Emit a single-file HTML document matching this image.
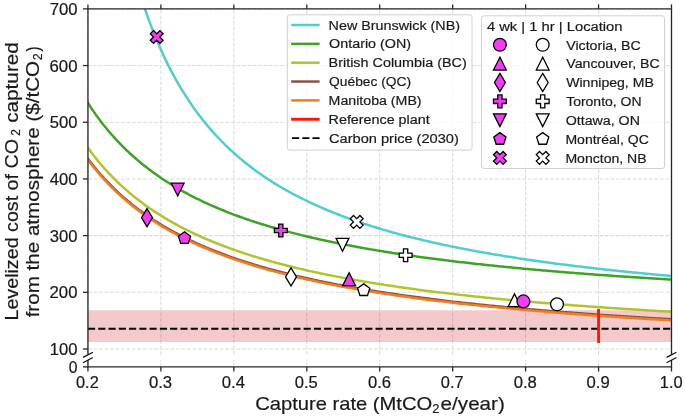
<!DOCTYPE html>
<html><head><meta charset="utf-8"><title>Levelized cost of CO2 captured</title>
<style>
html,body{margin:0;padding:0;background:#fff;width:685px;height:417px;overflow:hidden;}
svg{display:block;will-change:transform;}
text{font-family:"Liberation Sans", sans-serif;stroke:#1a1a1a;stroke-width:0.2px;}
</style></head><body>
<svg width="685" height="417" viewBox="0 0 685 417" font-family="'Liberation Sans', sans-serif">
<rect x="0" y="0" width="685" height="417" fill="#ffffff"/>
<defs>
<clipPath id="cu"><rect x="87.95" y="8.9" width="583.55" height="345.90000000000003"/></clipPath>
</defs>
<line x1="87.95" y1="349.00" x2="671.5" y2="349.00" stroke="#dadada" stroke-width="1.05" stroke-dasharray="3.84 1.66"/>
<line x1="87.95" y1="292.32" x2="671.5" y2="292.32" stroke="#dadada" stroke-width="1.05" stroke-dasharray="3.84 1.66"/>
<line x1="87.95" y1="235.63" x2="671.5" y2="235.63" stroke="#dadada" stroke-width="1.05" stroke-dasharray="3.84 1.66"/>
<line x1="87.95" y1="178.95" x2="671.5" y2="178.95" stroke="#dadada" stroke-width="1.05" stroke-dasharray="3.84 1.66"/>
<line x1="87.95" y1="122.27" x2="671.5" y2="122.27" stroke="#dadada" stroke-width="1.05" stroke-dasharray="3.84 1.66"/>
<line x1="87.95" y1="65.58" x2="671.5" y2="65.58" stroke="#dadada" stroke-width="1.05" stroke-dasharray="3.84 1.66"/>
<line x1="87.95" y1="8.90" x2="671.5" y2="8.90" stroke="#dadada" stroke-width="1.05" stroke-dasharray="3.84 1.66"/>
<line x1="87.95" y1="354.8" x2="87.95" y2="8.9" stroke="#dadada" stroke-width="1.05" stroke-dasharray="3.84 1.66"/>
<line x1="87.95" y1="366.9" x2="87.95" y2="360.1" stroke="#dadada" stroke-width="1.05" stroke-dasharray="3.84 1.66"/>
<line x1="160.89" y1="354.8" x2="160.89" y2="8.9" stroke="#dadada" stroke-width="1.05" stroke-dasharray="3.84 1.66"/>
<line x1="160.89" y1="366.9" x2="160.89" y2="360.1" stroke="#dadada" stroke-width="1.05" stroke-dasharray="3.84 1.66"/>
<line x1="233.84" y1="354.8" x2="233.84" y2="8.9" stroke="#dadada" stroke-width="1.05" stroke-dasharray="3.84 1.66"/>
<line x1="233.84" y1="366.9" x2="233.84" y2="360.1" stroke="#dadada" stroke-width="1.05" stroke-dasharray="3.84 1.66"/>
<line x1="306.78" y1="354.8" x2="306.78" y2="8.9" stroke="#dadada" stroke-width="1.05" stroke-dasharray="3.84 1.66"/>
<line x1="306.78" y1="366.9" x2="306.78" y2="360.1" stroke="#dadada" stroke-width="1.05" stroke-dasharray="3.84 1.66"/>
<line x1="379.72" y1="354.8" x2="379.72" y2="8.9" stroke="#dadada" stroke-width="1.05" stroke-dasharray="3.84 1.66"/>
<line x1="379.72" y1="366.9" x2="379.72" y2="360.1" stroke="#dadada" stroke-width="1.05" stroke-dasharray="3.84 1.66"/>
<line x1="452.67" y1="354.8" x2="452.67" y2="8.9" stroke="#dadada" stroke-width="1.05" stroke-dasharray="3.84 1.66"/>
<line x1="452.67" y1="366.9" x2="452.67" y2="360.1" stroke="#dadada" stroke-width="1.05" stroke-dasharray="3.84 1.66"/>
<line x1="525.61" y1="354.8" x2="525.61" y2="8.9" stroke="#dadada" stroke-width="1.05" stroke-dasharray="3.84 1.66"/>
<line x1="525.61" y1="366.9" x2="525.61" y2="360.1" stroke="#dadada" stroke-width="1.05" stroke-dasharray="3.84 1.66"/>
<line x1="598.56" y1="354.8" x2="598.56" y2="8.9" stroke="#dadada" stroke-width="1.05" stroke-dasharray="3.84 1.66"/>
<line x1="598.56" y1="366.9" x2="598.56" y2="360.1" stroke="#dadada" stroke-width="1.05" stroke-dasharray="3.84 1.66"/>
<line x1="671.50" y1="354.8" x2="671.50" y2="8.9" stroke="#dadada" stroke-width="1.05" stroke-dasharray="3.84 1.66"/>
<line x1="671.50" y1="366.9" x2="671.50" y2="360.1" stroke="#dadada" stroke-width="1.05" stroke-dasharray="3.84 1.66"/>
<rect x="87.95" y="310.3" width="583.55" height="31.69999999999999" fill="#d42834" fill-opacity="0.25"/>
<line x1="87.95" y1="328.7" x2="671.5" y2="328.7" stroke="#000" stroke-width="1.95" stroke-dasharray="7.17 3.1"/>
<g clip-path="url(#cu)" fill="none" stroke-width="2.5" stroke-linejoin="round">
<path d="M140.00,-6.24 L141.78,-0.63 L143.56,4.80 L145.34,10.06 L147.12,15.15 L148.90,20.08 L150.69,24.86 L152.47,29.50 L154.25,33.99 L156.03,38.36 L157.81,42.60 L159.59,46.72 L161.37,50.72 L163.15,54.62 L164.93,58.40 L166.71,62.09 L168.49,65.67 L170.28,69.17 L172.06,72.57 L173.84,75.88 L175.62,79.12 L177.40,82.27 L179.18,85.34 L180.96,88.34 L182.74,91.27 L184.52,94.12 L186.30,96.91 L188.09,99.64 L189.87,102.30 L191.65,104.91 L193.43,107.45 L195.21,109.94 L196.99,112.37 L198.77,114.75 L200.55,117.08 L202.33,119.36 L204.11,121.60 L205.89,123.78 L207.68,125.92 L209.46,128.02 L211.24,130.08 L213.02,132.09 L214.80,134.06 L216.58,136.00 L218.36,137.90 L220.14,139.76 L221.92,141.59 L223.70,143.38 L225.48,145.14 L227.27,146.86 L229.05,148.56 L230.83,150.22 L232.61,151.86 L234.39,153.46 L236.17,155.04 L237.95,156.59 L239.73,158.11 L241.51,159.61 L243.29,161.08 L245.08,162.52 L246.86,163.94 L248.64,165.34 L250.42,166.72 L252.20,168.07 L253.98,169.40 L255.76,170.71 L257.54,172.00 L259.32,173.26 L261.10,174.51 L262.88,175.74 L264.67,176.95 L266.45,178.14 L268.23,179.31 L270.01,180.47 L271.79,181.60 L273.57,182.72 L275.35,183.83 L277.13,184.92 L278.91,185.99 L280.69,187.04 L282.47,188.08 L284.26,189.11 L286.04,190.12 L287.82,191.12 L289.60,192.10 L291.38,193.07 L293.16,194.03 L294.94,194.97 L296.72,195.91 L298.50,196.82 L300.28,197.73 L302.07,198.62 L303.85,199.50 L305.63,200.38 L307.41,201.23 L309.19,202.08 L310.97,202.92 L312.75,203.75 L314.53,204.56 L316.31,205.37 L318.09,206.16 L319.87,206.95 L321.66,207.72 L323.44,208.49 L325.22,209.25 L327.00,209.99 L328.78,210.73 L330.56,211.46 L332.34,212.18 L334.12,212.90 L335.90,213.60 L337.68,214.29 L339.46,214.98 L341.25,215.66 L343.03,216.33 L344.81,217.00 L346.59,217.65 L348.37,218.30 L350.15,218.94 L351.93,219.58 L353.71,220.21 L355.49,220.83 L357.27,221.44 L359.06,222.05 L360.84,222.65 L362.62,223.24 L364.40,223.83 L366.18,224.41 L367.96,224.98 L369.74,225.55 L371.52,226.12 L373.30,226.67 L375.08,227.22 L376.86,227.77 L378.65,228.31 L380.43,228.84 L382.21,229.37 L383.99,229.89 L385.77,230.41 L387.55,230.92 L389.33,231.43 L391.11,231.93 L392.89,232.43 L394.67,232.92 L396.45,233.41 L398.24,233.89 L400.02,234.37 L401.80,234.85 L403.58,235.31 L405.36,235.78 L407.14,236.24 L408.92,236.69 L410.70,237.15 L412.48,237.59 L414.26,238.04 L416.05,238.47 L417.83,238.91 L419.61,239.34 L421.39,239.77 L423.17,240.19 L424.95,240.61 L426.73,241.02 L428.51,241.43 L430.29,241.84 L432.07,242.25 L433.85,242.65 L435.64,243.04 L437.42,243.44 L439.20,243.83 L440.98,244.21 L442.76,244.60 L444.54,244.98 L446.32,245.35 L448.10,245.73 L449.88,246.10 L451.66,246.46 L453.44,246.83 L455.23,247.19 L457.01,247.54 L458.79,247.90 L460.57,248.25 L462.35,248.60 L464.13,248.95 L465.91,249.29 L467.69,249.63 L469.47,249.97 L471.25,250.30 L473.04,250.63 L474.82,250.96 L476.60,251.29 L478.38,251.61 L480.16,251.93 L481.94,252.25 L483.72,252.57 L485.50,252.88 L487.28,253.19 L489.06,253.50 L490.84,253.81 L492.63,254.11 L494.41,254.42 L496.19,254.71 L497.97,255.01 L499.75,255.31 L501.53,255.60 L503.31,255.89 L505.09,256.18 L506.87,256.46 L508.65,256.75 L510.43,257.03 L512.22,257.31 L514.00,257.59 L515.78,257.86 L517.56,258.14 L519.34,258.41 L521.12,258.68 L522.90,258.94 L524.68,259.21 L526.46,259.47 L528.24,259.73 L530.03,259.99 L531.81,260.25 L533.59,260.51 L535.37,260.76 L537.15,261.02 L538.93,261.27 L540.71,261.52 L542.49,261.76 L544.27,262.01 L546.05,262.25 L547.83,262.49 L549.62,262.73 L551.40,262.97 L553.18,263.21 L554.96,263.45 L556.74,263.68 L558.52,263.91 L560.30,264.14 L562.08,264.37 L563.86,264.60 L565.64,264.83 L567.42,265.05 L569.21,265.27 L570.99,265.49 L572.77,265.71 L574.55,265.93 L576.33,266.15 L578.11,266.37 L579.89,266.58 L581.67,266.79 L583.45,267.01 L585.23,267.22 L587.02,267.43 L588.80,267.63 L590.58,267.84 L592.36,268.04 L594.14,268.25 L595.92,268.45 L597.70,268.65 L599.48,268.85 L601.26,269.05 L603.04,269.25 L604.82,269.44 L606.61,269.64 L608.39,269.83 L610.17,270.02 L611.95,270.21 L613.73,270.41 L615.51,270.59 L617.29,270.78 L619.07,270.97 L620.85,271.15 L622.63,271.34 L624.41,271.52 L626.20,271.70 L627.98,271.88 L629.76,272.06 L631.54,272.24 L633.32,272.42 L635.10,272.60 L636.88,272.77 L638.66,272.95 L640.44,273.12 L642.22,273.29 L644.01,273.47 L645.79,273.64 L647.57,273.81 L649.35,273.98 L651.13,274.14 L652.91,274.31 L654.69,274.48 L656.47,274.64 L658.25,274.80 L660.03,274.97 L661.81,275.13 L663.60,275.29 L665.38,275.45 L667.16,275.61 L668.94,275.77 L670.72,275.93 L672.50,276.08" stroke="#4fcdcf"/>
<path d="M86.95,101.43 L88.91,104.49 L90.87,107.45 L92.83,110.34 L94.78,113.16 L96.74,115.90 L98.70,118.56 L100.66,121.16 L102.62,123.70 L104.58,126.17 L106.53,128.58 L108.49,130.93 L110.45,133.23 L112.41,135.47 L114.37,137.66 L116.33,139.79 L118.28,141.88 L120.24,143.92 L122.20,145.92 L124.16,147.87 L126.12,149.78 L128.08,151.65 L130.03,153.47 L131.99,155.26 L133.95,157.01 L135.91,158.73 L137.87,160.41 L139.83,162.05 L141.78,163.67 L143.74,165.25 L145.70,166.79 L147.66,168.31 L149.62,169.80 L151.58,171.26 L153.53,172.70 L155.49,174.10 L157.45,175.48 L159.41,176.83 L161.37,178.16 L163.33,179.47 L165.28,180.75 L167.24,182.01 L169.20,183.25 L171.16,184.46 L173.12,185.66 L175.08,186.83 L177.03,187.98 L178.99,189.12 L180.95,190.23 L182.91,191.33 L184.87,192.41 L186.83,193.47 L188.78,194.51 L190.74,195.54 L192.70,196.55 L194.66,197.54 L196.62,198.52 L198.58,199.48 L200.53,200.43 L202.49,201.37 L204.45,202.29 L206.41,203.19 L208.37,204.08 L210.33,204.96 L212.29,205.83 L214.24,206.68 L216.20,207.52 L218.16,208.35 L220.12,209.17 L222.08,209.97 L224.04,210.77 L225.99,211.55 L227.95,212.32 L229.91,213.08 L231.87,213.83 L233.83,214.57 L235.79,215.30 L237.74,216.02 L239.70,216.73 L241.66,217.44 L243.62,218.13 L245.58,218.81 L247.54,219.48 L249.49,220.15 L251.45,220.81 L253.41,221.45 L255.37,222.09 L257.33,222.73 L259.29,223.35 L261.24,223.97 L263.20,224.57 L265.16,225.18 L267.12,225.77 L269.08,226.36 L271.04,226.94 L272.99,227.51 L274.95,228.07 L276.91,228.63 L278.87,229.18 L280.83,229.73 L282.79,230.27 L284.74,230.80 L286.70,231.33 L288.66,231.85 L290.62,232.37 L292.58,232.87 L294.54,233.38 L296.49,233.88 L298.45,234.37 L300.41,234.85 L302.37,235.34 L304.33,235.81 L306.29,236.28 L308.24,236.75 L310.20,237.21 L312.16,237.67 L314.12,238.12 L316.08,238.56 L318.04,239.00 L319.99,239.44 L321.95,239.87 L323.91,240.30 L325.87,240.72 L327.83,241.14 L329.79,241.56 L331.75,241.97 L333.70,242.37 L335.66,242.78 L337.62,243.17 L339.58,243.57 L341.54,243.96 L343.50,244.35 L345.45,244.73 L347.41,245.11 L349.37,245.48 L351.33,245.85 L353.29,246.22 L355.25,246.59 L357.20,246.95 L359.16,247.30 L361.12,247.66 L363.08,248.01 L365.04,248.36 L367.00,248.70 L368.95,249.04 L370.91,249.38 L372.87,249.71 L374.83,250.05 L376.79,250.37 L378.75,250.70 L380.70,251.02 L382.66,251.34 L384.62,251.66 L386.58,251.97 L388.54,252.29 L390.50,252.59 L392.45,252.90 L394.41,253.20 L396.37,253.50 L398.33,253.80 L400.29,254.10 L402.25,254.39 L404.20,254.68 L406.16,254.97 L408.12,255.25 L410.08,255.54 L412.04,255.82 L414.00,256.09 L415.95,256.37 L417.91,256.64 L419.87,256.92 L421.83,257.18 L423.79,257.45 L425.75,257.72 L427.70,257.98 L429.66,258.24 L431.62,258.50 L433.58,258.75 L435.54,259.01 L437.50,259.26 L439.46,259.51 L441.41,259.76 L443.37,260.00 L445.33,260.25 L447.29,260.49 L449.25,260.73 L451.21,260.97 L453.16,261.21 L455.12,261.44 L457.08,261.68 L459.04,261.91 L461.00,262.14 L462.96,262.36 L464.91,262.59 L466.87,262.81 L468.83,263.04 L470.79,263.26 L472.75,263.48 L474.71,263.70 L476.66,263.91 L478.62,264.13 L480.58,264.34 L482.54,264.55 L484.50,264.76 L486.46,264.97 L488.41,265.18 L490.37,265.38 L492.33,265.58 L494.29,265.79 L496.25,265.99 L498.21,266.19 L500.16,266.39 L502.12,266.58 L504.08,266.78 L506.04,266.97 L508.00,267.16 L509.96,267.36 L511.91,267.55 L513.87,267.73 L515.83,267.92 L517.79,268.11 L519.75,268.29 L521.71,268.48 L523.66,268.66 L525.62,268.84 L527.58,269.02 L529.54,269.20 L531.50,269.38 L533.46,269.55 L535.41,269.73 L537.37,269.90 L539.33,270.07 L541.29,270.25 L543.25,270.42 L545.21,270.58 L547.16,270.75 L549.12,270.92 L551.08,271.09 L553.04,271.25 L555.00,271.42 L556.96,271.58 L558.92,271.74 L560.87,271.90 L562.83,272.06 L564.79,272.22 L566.75,272.38 L568.71,272.53 L570.67,272.69 L572.62,272.84 L574.58,273.00 L576.54,273.15 L578.50,273.30 L580.46,273.45 L582.42,273.60 L584.37,273.75 L586.33,273.90 L588.29,274.05 L590.25,274.20 L592.21,274.34 L594.17,274.49 L596.12,274.63 L598.08,274.77 L600.04,274.91 L602.00,275.06 L603.96,275.20 L605.92,275.34 L607.87,275.47 L609.83,275.61 L611.79,275.75 L613.75,275.89 L615.71,276.02 L617.67,276.16 L619.62,276.29 L621.58,276.42 L623.54,276.55 L625.50,276.69 L627.46,276.82 L629.42,276.95 L631.37,277.08 L633.33,277.21 L635.29,277.33 L637.25,277.46 L639.21,277.59 L641.17,277.71 L643.12,277.84 L645.08,277.96 L647.04,278.09 L649.00,278.21 L650.96,278.33 L652.92,278.45 L654.87,278.57 L656.83,278.69 L658.79,278.81 L660.75,278.93 L662.71,279.05 L664.67,279.17 L666.62,279.28 L668.58,279.40 L670.54,279.52 L672.50,279.63" stroke="#3ca325"/>
<path d="M86.95,146.49 L88.91,149.20 L90.87,151.84 L92.83,154.41 L94.78,156.92 L96.74,159.37 L98.70,161.75 L100.66,164.08 L102.62,166.35 L104.58,168.57 L106.53,170.74 L108.49,172.85 L110.45,174.92 L112.41,176.94 L114.37,178.92 L116.33,180.85 L118.28,182.74 L120.24,184.59 L122.20,186.40 L124.16,188.17 L126.12,189.90 L128.08,191.60 L130.03,193.26 L131.99,194.89 L133.95,196.49 L135.91,198.05 L137.87,199.58 L139.83,201.09 L141.78,202.56 L143.74,204.01 L145.70,205.43 L147.66,206.82 L149.62,208.18 L151.58,209.52 L153.53,210.84 L155.49,212.13 L157.45,213.40 L159.41,214.65 L161.37,215.87 L163.33,217.08 L165.28,218.26 L167.24,219.42 L169.20,220.56 L171.16,221.69 L173.12,222.79 L175.08,223.88 L177.03,224.94 L178.99,225.99 L180.95,227.03 L182.91,228.04 L184.87,229.04 L186.83,230.03 L188.78,231.00 L190.74,231.95 L192.70,232.89 L194.66,233.82 L196.62,234.73 L198.58,235.63 L200.53,236.51 L202.49,237.38 L204.45,238.24 L206.41,239.08 L208.37,239.91 L210.33,240.74 L212.29,241.54 L214.24,242.34 L216.20,243.13 L218.16,243.90 L220.12,244.67 L222.08,245.42 L224.04,246.16 L225.99,246.90 L227.95,247.62 L229.91,248.33 L231.87,249.04 L233.83,249.73 L235.79,250.42 L237.74,251.09 L239.70,251.76 L241.66,252.42 L243.62,253.07 L245.58,253.71 L247.54,254.35 L249.49,254.97 L251.45,255.59 L253.41,256.20 L255.37,256.80 L257.33,257.40 L259.29,257.99 L261.24,258.57 L263.20,259.14 L265.16,259.71 L267.12,260.27 L269.08,260.82 L271.04,261.37 L272.99,261.91 L274.95,262.45 L276.91,262.97 L278.87,263.50 L280.83,264.01 L282.79,264.52 L284.74,265.03 L286.70,265.53 L288.66,266.02 L290.62,266.51 L292.58,266.99 L294.54,267.46 L296.49,267.94 L298.45,268.40 L300.41,268.86 L302.37,269.32 L304.33,269.77 L306.29,270.22 L308.24,270.66 L310.20,271.10 L312.16,271.53 L314.12,271.96 L316.08,272.38 L318.04,272.80 L319.99,273.22 L321.95,273.63 L323.91,274.03 L325.87,274.44 L327.83,274.84 L329.79,275.23 L331.75,275.62 L333.70,276.01 L335.66,276.39 L337.62,276.77 L339.58,277.14 L341.54,277.52 L343.50,277.88 L345.45,278.25 L347.41,278.61 L349.37,278.97 L351.33,279.32 L353.29,279.67 L355.25,280.02 L357.20,280.36 L359.16,280.71 L361.12,281.04 L363.08,281.38 L365.04,281.71 L367.00,282.04 L368.95,282.36 L370.91,282.69 L372.87,283.01 L374.83,283.32 L376.79,283.64 L378.75,283.95 L380.70,284.26 L382.66,284.56 L384.62,284.87 L386.58,285.17 L388.54,285.46 L390.50,285.76 L392.45,286.05 L394.41,286.34 L396.37,286.63 L398.33,286.91 L400.29,287.20 L402.25,287.48 L404.20,287.76 L406.16,288.03 L408.12,288.31 L410.08,288.58 L412.04,288.85 L414.00,289.11 L415.95,289.38 L417.91,289.64 L419.87,289.90 L421.83,290.16 L423.79,290.41 L425.75,290.67 L427.70,290.92 L429.66,291.17 L431.62,291.42 L433.58,291.66 L435.54,291.91 L437.50,292.15 L439.46,292.39 L441.41,292.63 L443.37,292.86 L445.33,293.10 L447.29,293.33 L449.25,293.56 L451.21,293.79 L453.16,294.02 L455.12,294.24 L457.08,294.47 L459.04,294.69 L461.00,294.91 L462.96,295.13 L464.91,295.35 L466.87,295.56 L468.83,295.78 L470.79,295.99 L472.75,296.20 L474.71,296.41 L476.66,296.62 L478.62,296.82 L480.58,297.03 L482.54,297.23 L484.50,297.44 L486.46,297.64 L488.41,297.83 L490.37,298.03 L492.33,298.23 L494.29,298.42 L496.25,298.62 L498.21,298.81 L500.16,299.00 L502.12,299.19 L504.08,299.38 L506.04,299.57 L508.00,299.75 L509.96,299.94 L511.91,300.12 L513.87,300.30 L515.83,300.48 L517.79,300.66 L519.75,300.84 L521.71,301.02 L523.66,301.19 L525.62,301.37 L527.58,301.54 L529.54,301.71 L531.50,301.88 L533.46,302.05 L535.41,302.22 L537.37,302.39 L539.33,302.56 L541.29,302.72 L543.25,302.89 L545.21,303.05 L547.16,303.21 L549.12,303.37 L551.08,303.53 L553.04,303.69 L555.00,303.85 L556.96,304.01 L558.92,304.17 L560.87,304.32 L562.83,304.48 L564.79,304.63 L566.75,304.78 L568.71,304.93 L570.67,305.08 L572.62,305.23 L574.58,305.38 L576.54,305.53 L578.50,305.68 L580.46,305.82 L582.42,305.97 L584.37,306.11 L586.33,306.26 L588.29,306.40 L590.25,306.54 L592.21,306.68 L594.17,306.82 L596.12,306.96 L598.08,307.10 L600.04,307.23 L602.00,307.37 L603.96,307.51 L605.92,307.64 L607.87,307.78 L609.83,307.91 L611.79,308.04 L613.75,308.17 L615.71,308.31 L617.67,308.44 L619.62,308.57 L621.58,308.69 L623.54,308.82 L625.50,308.95 L627.46,309.08 L629.42,309.20 L631.37,309.33 L633.33,309.45 L635.29,309.58 L637.25,309.70 L639.21,309.82 L641.17,309.94 L643.12,310.07 L645.08,310.19 L647.04,310.31 L649.00,310.42 L650.96,310.54 L652.92,310.66 L654.87,310.78 L656.83,310.89 L658.79,311.01 L660.75,311.13 L662.71,311.24 L664.67,311.35 L666.62,311.47 L668.58,311.58 L670.54,311.69 L672.50,311.80" stroke="#b2c42a"/>
<path d="M86.95,157.43 L88.91,160.05 L90.87,162.60 L92.83,165.09 L94.78,167.51 L96.74,169.88 L98.70,172.19 L100.66,174.45 L102.62,176.65 L104.58,178.80 L106.53,180.90 L108.49,182.95 L110.45,184.96 L112.41,186.92 L114.37,188.84 L116.33,190.71 L118.28,192.55 L120.24,194.35 L122.20,196.10 L124.16,197.83 L126.12,199.51 L128.08,201.16 L130.03,202.78 L131.99,204.37 L133.95,205.92 L135.91,207.45 L137.87,208.94 L139.83,210.41 L141.78,211.84 L143.74,213.25 L145.70,214.64 L147.66,215.99 L149.62,217.33 L151.58,218.63 L153.53,219.92 L155.49,221.18 L157.45,222.42 L159.41,223.64 L161.37,224.83 L163.33,226.01 L165.28,227.16 L167.24,228.30 L169.20,229.42 L171.16,230.52 L173.12,231.60 L175.08,232.66 L177.03,233.70 L178.99,234.73 L180.95,235.74 L182.91,236.74 L184.87,237.72 L186.83,238.68 L188.78,239.63 L190.74,240.56 L192.70,241.48 L194.66,242.39 L196.62,243.28 L198.58,244.16 L200.53,245.03 L202.49,245.88 L204.45,246.72 L206.41,247.55 L208.37,248.37 L210.33,249.17 L212.29,249.96 L214.24,250.75 L216.20,251.52 L218.16,252.28 L220.12,253.03 L222.08,253.77 L224.04,254.50 L225.99,255.22 L227.95,255.93 L229.91,256.63 L231.87,257.32 L233.83,258.00 L235.79,258.68 L237.74,259.34 L239.70,260.00 L241.66,260.64 L243.62,261.28 L245.58,261.91 L247.54,262.54 L249.49,263.15 L251.45,263.76 L253.41,264.36 L255.37,264.95 L257.33,265.54 L259.29,266.12 L261.24,266.69 L263.20,267.25 L265.16,267.81 L267.12,268.36 L269.08,268.91 L271.04,269.44 L272.99,269.98 L274.95,270.50 L276.91,271.02 L278.87,271.54 L280.83,272.04 L282.79,272.55 L284.74,273.04 L286.70,273.53 L288.66,274.02 L290.62,274.50 L292.58,274.98 L294.54,275.44 L296.49,275.91 L298.45,276.37 L300.41,276.82 L302.37,277.27 L304.33,277.72 L306.29,278.16 L308.24,278.59 L310.20,279.03 L312.16,279.45 L314.12,279.87 L316.08,280.29 L318.04,280.70 L319.99,281.11 L321.95,281.52 L323.91,281.92 L325.87,282.32 L327.83,282.71 L329.79,283.10 L331.75,283.48 L333.70,283.87 L335.66,284.24 L337.62,284.62 L339.58,284.99 L341.54,285.35 L343.50,285.72 L345.45,286.08 L347.41,286.43 L349.37,286.79 L351.33,287.14 L353.29,287.48 L355.25,287.82 L357.20,288.16 L359.16,288.50 L361.12,288.83 L363.08,289.17 L365.04,289.49 L367.00,289.82 L368.95,290.14 L370.91,290.46 L372.87,290.77 L374.83,291.09 L376.79,291.40 L378.75,291.70 L380.70,292.01 L382.66,292.31 L384.62,292.61 L386.58,292.91 L388.54,293.20 L390.50,293.49 L392.45,293.78 L394.41,294.07 L396.37,294.35 L398.33,294.63 L400.29,294.91 L402.25,295.19 L404.20,295.47 L406.16,295.74 L408.12,296.01 L410.08,296.28 L412.04,296.54 L414.00,296.81 L415.95,297.07 L417.91,297.33 L419.87,297.58 L421.83,297.84 L423.79,298.09 L425.75,298.34 L427.70,298.59 L429.66,298.84 L431.62,299.08 L433.58,299.33 L435.54,299.57 L437.50,299.81 L439.46,300.05 L441.41,300.28 L443.37,300.51 L445.33,300.75 L447.29,300.98 L449.25,301.21 L451.21,301.43 L453.16,301.66 L455.12,301.88 L457.08,302.10 L459.04,302.32 L461.00,302.54 L462.96,302.76 L464.91,302.97 L466.87,303.19 L468.83,303.40 L470.79,303.61 L472.75,303.82 L474.71,304.02 L476.66,304.23 L478.62,304.43 L480.58,304.64 L482.54,304.84 L484.50,305.04 L486.46,305.24 L488.41,305.43 L490.37,305.63 L492.33,305.82 L494.29,306.02 L496.25,306.21 L498.21,306.40 L500.16,306.59 L502.12,306.78 L504.08,306.96 L506.04,307.15 L508.00,307.33 L509.96,307.51 L511.91,307.70 L513.87,307.88 L515.83,308.05 L517.79,308.23 L519.75,308.41 L521.71,308.58 L523.66,308.76 L525.62,308.93 L527.58,309.10 L529.54,309.27 L531.50,309.44 L533.46,309.61 L535.41,309.78 L537.37,309.95 L539.33,310.11 L541.29,310.27 L543.25,310.44 L545.21,310.60 L547.16,310.76 L549.12,310.92 L551.08,311.08 L553.04,311.24 L555.00,311.39 L556.96,311.55 L558.92,311.70 L560.87,311.86 L562.83,312.01 L564.79,312.16 L566.75,312.31 L568.71,312.46 L570.67,312.61 L572.62,312.76 L574.58,312.91 L576.54,313.06 L578.50,313.20 L580.46,313.35 L582.42,313.49 L584.37,313.63 L586.33,313.78 L588.29,313.92 L590.25,314.06 L592.21,314.20 L594.17,314.34 L596.12,314.47 L598.08,314.61 L600.04,314.75 L602.00,314.88 L603.96,315.02 L605.92,315.15 L607.87,315.28 L609.83,315.42 L611.79,315.55 L613.75,315.68 L615.71,315.81 L617.67,315.94 L619.62,316.07 L621.58,316.19 L623.54,316.32 L625.50,316.45 L627.46,316.57 L629.42,316.70 L631.37,316.82 L633.33,316.95 L635.29,317.07 L637.25,317.19 L639.21,317.31 L641.17,317.43 L643.12,317.55 L645.08,317.67 L647.04,317.79 L649.00,317.91 L650.96,318.03 L652.92,318.14 L654.87,318.26 L656.83,318.38 L658.79,318.49 L660.75,318.61 L662.71,318.72 L664.67,318.83 L666.62,318.94 L668.58,319.06 L670.54,319.17 L672.50,319.28" stroke="#8c5048"/>
<path d="M86.95,158.53 L88.91,161.15 L90.87,163.70 L92.83,166.19 L94.78,168.61 L96.74,170.98 L98.70,173.29 L100.66,175.55 L102.62,177.75 L104.58,179.90 L106.53,182.00 L108.49,184.05 L110.45,186.06 L112.41,188.02 L114.37,189.94 L116.33,191.81 L118.28,193.65 L120.24,195.45 L122.20,197.20 L124.16,198.93 L126.12,200.61 L128.08,202.26 L130.03,203.88 L131.99,205.47 L133.95,207.02 L135.91,208.55 L137.87,210.04 L139.83,211.51 L141.78,212.94 L143.74,214.35 L145.70,215.74 L147.66,217.09 L149.62,218.43 L151.58,219.73 L153.53,221.02 L155.49,222.28 L157.45,223.52 L159.41,224.74 L161.37,225.93 L163.33,227.11 L165.28,228.26 L167.24,229.40 L169.20,230.52 L171.16,231.62 L173.12,232.70 L175.08,233.76 L177.03,234.80 L178.99,235.83 L180.95,236.84 L182.91,237.84 L184.87,238.82 L186.83,239.78 L188.78,240.73 L190.74,241.66 L192.70,242.58 L194.66,243.49 L196.62,244.38 L198.58,245.26 L200.53,246.13 L202.49,246.98 L204.45,247.82 L206.41,248.65 L208.37,249.47 L210.33,250.27 L212.29,251.06 L214.24,251.85 L216.20,252.62 L218.16,253.38 L220.12,254.13 L222.08,254.87 L224.04,255.60 L225.99,256.32 L227.95,257.03 L229.91,257.73 L231.87,258.42 L233.83,259.10 L235.79,259.78 L237.74,260.44 L239.70,261.10 L241.66,261.74 L243.62,262.38 L245.58,263.01 L247.54,263.64 L249.49,264.25 L251.45,264.86 L253.41,265.46 L255.37,266.05 L257.33,266.64 L259.29,267.22 L261.24,267.79 L263.20,268.35 L265.16,268.91 L267.12,269.46 L269.08,270.01 L271.04,270.54 L272.99,271.08 L274.95,271.60 L276.91,272.12 L278.87,272.64 L280.83,273.14 L282.79,273.65 L284.74,274.14 L286.70,274.63 L288.66,275.12 L290.62,275.60 L292.58,276.08 L294.54,276.54 L296.49,277.01 L298.45,277.47 L300.41,277.92 L302.37,278.37 L304.33,278.82 L306.29,279.26 L308.24,279.69 L310.20,280.13 L312.16,280.55 L314.12,280.97 L316.08,281.39 L318.04,281.80 L319.99,282.21 L321.95,282.62 L323.91,283.02 L325.87,283.42 L327.83,283.81 L329.79,284.20 L331.75,284.58 L333.70,284.97 L335.66,285.34 L337.62,285.72 L339.58,286.09 L341.54,286.45 L343.50,286.82 L345.45,287.18 L347.41,287.53 L349.37,287.89 L351.33,288.24 L353.29,288.58 L355.25,288.92 L357.20,289.26 L359.16,289.60 L361.12,289.93 L363.08,290.27 L365.04,290.59 L367.00,290.92 L368.95,291.24 L370.91,291.56 L372.87,291.87 L374.83,292.19 L376.79,292.50 L378.75,292.80 L380.70,293.11 L382.66,293.41 L384.62,293.71 L386.58,294.01 L388.54,294.30 L390.50,294.59 L392.45,294.88 L394.41,295.17 L396.37,295.45 L398.33,295.73 L400.29,296.01 L402.25,296.29 L404.20,296.57 L406.16,296.84 L408.12,297.11 L410.08,297.38 L412.04,297.64 L414.00,297.91 L415.95,298.17 L417.91,298.43 L419.87,298.68 L421.83,298.94 L423.79,299.19 L425.75,299.44 L427.70,299.69 L429.66,299.94 L431.62,300.18 L433.58,300.43 L435.54,300.67 L437.50,300.91 L439.46,301.15 L441.41,301.38 L443.37,301.61 L445.33,301.85 L447.29,302.08 L449.25,302.31 L451.21,302.53 L453.16,302.76 L455.12,302.98 L457.08,303.20 L459.04,303.42 L461.00,303.64 L462.96,303.86 L464.91,304.07 L466.87,304.29 L468.83,304.50 L470.79,304.71 L472.75,304.92 L474.71,305.12 L476.66,305.33 L478.62,305.53 L480.58,305.74 L482.54,305.94 L484.50,306.14 L486.46,306.34 L488.41,306.53 L490.37,306.73 L492.33,306.92 L494.29,307.12 L496.25,307.31 L498.21,307.50 L500.16,307.69 L502.12,307.88 L504.08,308.06 L506.04,308.25 L508.00,308.43 L509.96,308.61 L511.91,308.80 L513.87,308.98 L515.83,309.15 L517.79,309.33 L519.75,309.51 L521.71,309.68 L523.66,309.86 L525.62,310.03 L527.58,310.20 L529.54,310.37 L531.50,310.54 L533.46,310.71 L535.41,310.88 L537.37,311.05 L539.33,311.21 L541.29,311.37 L543.25,311.54 L545.21,311.70 L547.16,311.86 L549.12,312.02 L551.08,312.18 L553.04,312.34 L555.00,312.49 L556.96,312.65 L558.92,312.80 L560.87,312.96 L562.83,313.11 L564.79,313.26 L566.75,313.41 L568.71,313.56 L570.67,313.71 L572.62,313.86 L574.58,314.01 L576.54,314.16 L578.50,314.30 L580.46,314.45 L582.42,314.59 L584.37,314.73 L586.33,314.88 L588.29,315.02 L590.25,315.16 L592.21,315.30 L594.17,315.44 L596.12,315.57 L598.08,315.71 L600.04,315.85 L602.00,315.98 L603.96,316.12 L605.92,316.25 L607.87,316.38 L609.83,316.52 L611.79,316.65 L613.75,316.78 L615.71,316.91 L617.67,317.04 L619.62,317.17 L621.58,317.29 L623.54,317.42 L625.50,317.55 L627.46,317.67 L629.42,317.80 L631.37,317.92 L633.33,318.05 L635.29,318.17 L637.25,318.29 L639.21,318.41 L641.17,318.53 L643.12,318.65 L645.08,318.77 L647.04,318.89 L649.00,319.01 L650.96,319.13 L652.92,319.24 L654.87,319.36 L656.83,319.48 L658.79,319.59 L660.75,319.71 L662.71,319.82 L664.67,319.93 L666.62,320.04 L668.58,320.16 L670.54,320.27 L672.50,320.38" stroke="#f07d1e"/>
</g>
<line x1="598.56" y1="309.0" x2="598.56" y2="343.0" stroke="#ff1500" stroke-width="2.8"/>
<polygon points="353.49,215.47 356.70,218.69 359.91,215.47 363.12,218.69 359.91,221.90 363.12,225.11 359.91,228.33 356.70,225.11 353.49,228.33 350.27,225.11 353.49,221.90 350.27,218.69" fill="#ffffff" stroke="#000" stroke-width="1.285" stroke-linejoin="miter"/>
<polygon points="342.50,251.23 336.07,238.38 348.93,238.38" fill="#ffffff" stroke="#000" stroke-width="1.285" stroke-linejoin="miter"/>
<polygon points="291.00,267.81 296.45,276.90 291.00,285.99 285.55,276.90" fill="#ffffff" stroke="#000" stroke-width="1.285" stroke-linejoin="miter"/>
<polygon points="363.70,283.88 357.59,288.31 359.92,295.50 367.48,295.50 369.81,288.31" fill="#ffffff" stroke="#000" stroke-width="1.285" stroke-linejoin="miter"/>
<polygon points="403.46,248.77 407.74,248.77 407.74,253.06 412.03,253.06 412.03,257.34 407.74,257.34 407.74,261.62 403.46,261.62 403.46,257.34 399.18,257.34 399.18,253.06 403.46,253.06" fill="#ffffff" stroke="#000" stroke-width="1.285" stroke-linejoin="miter"/>
<polygon points="514.50,293.88 508.07,306.73 520.92,306.73" fill="#ffffff" stroke="#000" stroke-width="1.285" stroke-linejoin="miter"/>
<circle cx="557.00" cy="304.30" r="6.42" fill="#ffffff" stroke="#000" stroke-width="1.285" stroke-linejoin="miter"/>
<polygon points="153.49,30.57 156.70,33.79 159.91,30.57 163.12,33.79 159.91,37.00 163.12,40.21 159.91,43.42 156.70,40.21 153.49,43.42 150.27,40.21 153.49,37.00 150.27,33.79" fill="#f33cf5" stroke="#000" stroke-width="1.285" stroke-linejoin="miter"/>
<polygon points="177.70,196.03 171.27,183.17 184.12,183.17" fill="#f33cf5" stroke="#000" stroke-width="1.285" stroke-linejoin="miter"/>
<polygon points="147.00,208.61 152.45,217.70 147.00,226.79 141.55,217.70" fill="#f33cf5" stroke="#000" stroke-width="1.285" stroke-linejoin="miter"/>
<polygon points="184.50,231.77 178.39,236.21 180.72,243.40 188.28,243.40 190.61,236.21" fill="#f33cf5" stroke="#000" stroke-width="1.285" stroke-linejoin="miter"/>
<polygon points="278.66,224.07 282.94,224.07 282.94,228.36 287.23,228.36 287.23,232.64 282.94,232.64 282.94,236.93 278.66,236.93 278.66,232.64 274.38,232.64 274.38,228.36 278.66,228.36" fill="#f33cf5" stroke="#000" stroke-width="1.285" stroke-linejoin="miter"/>
<polygon points="349.10,272.77 342.68,285.62 355.53,285.62" fill="#f33cf5" stroke="#000" stroke-width="1.285" stroke-linejoin="miter"/>
<circle cx="523.40" cy="301.40" r="6.42" fill="#f33cf5" stroke="#000" stroke-width="1.285" stroke-linejoin="miter"/>
<path d="M87.95,354.8 L87.95,8.9 L671.5,8.9 L671.5,354.8" stroke="#262626" stroke-width="1.3" fill="none" stroke-linejoin="miter"/>
<path d="M87.95,360.1 L87.95,366.9 L671.5,366.9 L671.5,360.1" stroke="#262626" stroke-width="1.3" fill="none" stroke-linejoin="miter"/>
<line x1="83.05" y1="357.40" x2="92.85" y2="352.20" stroke="#111" stroke-width="1.3"/>
<line x1="666.60" y1="357.40" x2="676.40" y2="352.20" stroke="#111" stroke-width="1.3"/>
<line x1="83.05" y1="362.70" x2="92.85" y2="357.50" stroke="#111" stroke-width="1.3"/>
<line x1="666.60" y1="362.70" x2="676.40" y2="357.50" stroke="#111" stroke-width="1.3"/>
<line x1="82.95" y1="349.00" x2="87.95" y2="349.00" stroke="#262626" stroke-width="1.3"/>
<line x1="82.95" y1="292.32" x2="87.95" y2="292.32" stroke="#262626" stroke-width="1.3"/>
<line x1="82.95" y1="235.63" x2="87.95" y2="235.63" stroke="#262626" stroke-width="1.3"/>
<line x1="82.95" y1="178.95" x2="87.95" y2="178.95" stroke="#262626" stroke-width="1.3"/>
<line x1="82.95" y1="122.27" x2="87.95" y2="122.27" stroke="#262626" stroke-width="1.3"/>
<line x1="82.95" y1="65.58" x2="87.95" y2="65.58" stroke="#262626" stroke-width="1.3"/>
<line x1="82.95" y1="8.90" x2="87.95" y2="8.90" stroke="#262626" stroke-width="1.3"/>
<line x1="82.95" y1="366.9" x2="87.95" y2="366.9" stroke="#262626" stroke-width="1.3"/>
<line x1="87.95" y1="4.40" x2="87.95" y2="8.90" stroke="#262626" stroke-width="1.3"/>
<line x1="87.95" y1="366.90" x2="87.95" y2="371.50" stroke="#262626" stroke-width="1.3"/>
<line x1="160.89" y1="4.40" x2="160.89" y2="8.90" stroke="#262626" stroke-width="1.3"/>
<line x1="160.89" y1="366.90" x2="160.89" y2="371.50" stroke="#262626" stroke-width="1.3"/>
<line x1="233.84" y1="4.40" x2="233.84" y2="8.90" stroke="#262626" stroke-width="1.3"/>
<line x1="233.84" y1="366.90" x2="233.84" y2="371.50" stroke="#262626" stroke-width="1.3"/>
<line x1="306.78" y1="4.40" x2="306.78" y2="8.90" stroke="#262626" stroke-width="1.3"/>
<line x1="306.78" y1="366.90" x2="306.78" y2="371.50" stroke="#262626" stroke-width="1.3"/>
<line x1="379.72" y1="4.40" x2="379.72" y2="8.90" stroke="#262626" stroke-width="1.3"/>
<line x1="379.72" y1="366.90" x2="379.72" y2="371.50" stroke="#262626" stroke-width="1.3"/>
<line x1="452.67" y1="4.40" x2="452.67" y2="8.90" stroke="#262626" stroke-width="1.3"/>
<line x1="452.67" y1="366.90" x2="452.67" y2="371.50" stroke="#262626" stroke-width="1.3"/>
<line x1="525.61" y1="4.40" x2="525.61" y2="8.90" stroke="#262626" stroke-width="1.3"/>
<line x1="525.61" y1="366.90" x2="525.61" y2="371.50" stroke="#262626" stroke-width="1.3"/>
<line x1="598.56" y1="4.40" x2="598.56" y2="8.90" stroke="#262626" stroke-width="1.3"/>
<line x1="598.56" y1="366.90" x2="598.56" y2="371.50" stroke="#262626" stroke-width="1.3"/>
<line x1="671.50" y1="4.40" x2="671.50" y2="8.90" stroke="#262626" stroke-width="1.3"/>
<line x1="671.50" y1="366.90" x2="671.50" y2="371.50" stroke="#262626" stroke-width="1.3"/>
<text id="t0" x="49.81" y="354.98" font-size="15.80" textLength="27.69" lengthAdjust="spacingAndGlyphs" fill="#1a1a1a" >100</text>
<text id="t1" x="49.57" y="298.30" font-size="15.80" textLength="27.93" lengthAdjust="spacingAndGlyphs" fill="#1a1a1a" >200</text>
<text id="t2" x="49.77" y="241.61" font-size="15.80" textLength="27.73" lengthAdjust="spacingAndGlyphs" fill="#1a1a1a" >300</text>
<text id="t3" x="49.79" y="184.93" font-size="15.80" textLength="27.70" lengthAdjust="spacingAndGlyphs" fill="#1a1a1a" >400</text>
<text id="t4" x="49.81" y="128.25" font-size="15.80" textLength="27.68" lengthAdjust="spacingAndGlyphs" fill="#1a1a1a" >500</text>
<text id="t5" x="49.48" y="71.56" font-size="15.80" textLength="28.02" lengthAdjust="spacingAndGlyphs" fill="#1a1a1a" >600</text>
<text id="t6" x="49.69" y="14.88" font-size="15.80" textLength="27.81" lengthAdjust="spacingAndGlyphs" fill="#1a1a1a" >700</text>
<text id="t7" x="68.74" y="372.88" font-size="15.80" textLength="8.73" lengthAdjust="spacingAndGlyphs" fill="#1a1a1a" >0</text>
<text id="t8" x="76.02" y="387.90" font-size="15.80" textLength="22.72" lengthAdjust="spacingAndGlyphs" fill="#1a1a1a" >0.2</text>
<text id="t9" x="148.90" y="387.90" font-size="15.80" textLength="23.18" lengthAdjust="spacingAndGlyphs" fill="#1a1a1a" >0.3</text>
<text id="t10" x="221.79" y="387.90" font-size="15.80" textLength="23.32" lengthAdjust="spacingAndGlyphs" fill="#1a1a1a" >0.4</text>
<text id="t11" x="294.68" y="387.90" font-size="15.80" textLength="23.05" lengthAdjust="spacingAndGlyphs" fill="#1a1a1a" >0.5</text>
<text id="t12" x="367.93" y="387.90" font-size="15.80" textLength="23.09" lengthAdjust="spacingAndGlyphs" fill="#1a1a1a" >0.6</text>
<text id="t13" x="440.82" y="387.90" font-size="15.80" textLength="22.76" lengthAdjust="spacingAndGlyphs" fill="#1a1a1a" >0.7</text>
<text id="t14" x="513.71" y="387.90" font-size="15.80" textLength="23.18" lengthAdjust="spacingAndGlyphs" fill="#1a1a1a" >0.8</text>
<text id="t15" x="586.59" y="387.90" font-size="15.80" textLength="23.20" lengthAdjust="spacingAndGlyphs" fill="#1a1a1a" >0.9</text>
<text id="t16" x="659.72" y="387.90" font-size="15.80" textLength="22.91" lengthAdjust="spacingAndGlyphs" fill="#1a1a1a" >1.0</text>
<text id="t17" x="255.15" y="410.20" font-size="19.01" textLength="177.08" lengthAdjust="spacingAndGlyphs" fill="#1a1a1a" >Capture rate (MtCO</text>
<text id="t18" x="432.34" y="412.90" font-size="13.30" textLength="7.17" lengthAdjust="spacingAndGlyphs" fill="#1a1a1a" >2</text>
<text id="t19" x="440.64" y="410.20" font-size="19.01" textLength="64.19" lengthAdjust="spacingAndGlyphs" fill="#1a1a1a" >e/year)</text>
<g transform="rotate(-90)">
<text id="t20" x="-320.54" y="17.50" font-size="19.01" textLength="181.53" lengthAdjust="spacingAndGlyphs" fill="#1a1a1a" >Levelized cost of CO</text>
<text id="t21" x="-135.76" y="20.10" font-size="13.30" textLength="6.65" lengthAdjust="spacingAndGlyphs" fill="#1a1a1a" >2</text>
<text id="t22" x="-122.80" y="17.50" font-size="19.01" textLength="80.65" lengthAdjust="spacingAndGlyphs" fill="#1a1a1a" >captured</text>
<text id="t23" x="-317.38" y="39.00" font-size="19.01" textLength="256.42" lengthAdjust="spacingAndGlyphs" fill="#1a1a1a" >from the atmosphere ($/tCO</text>
<text id="t24" x="-60.22" y="41.50" font-size="13.30" textLength="6.89" lengthAdjust="spacingAndGlyphs" fill="#1a1a1a" >2</text>
<text id="t25" x="-51.62" y="39.00" font-size="19.01" textLength="5.04" lengthAdjust="spacingAndGlyphs" fill="#1a1a1a" >)</text>
</g>
<rect x="287.3" y="14.8" width="184.70" height="135.30" rx="2.5" ry="2.5" fill="#ffffff" fill-opacity="0.8" stroke="#d0d0d0" stroke-width="1"/>
<line x1="291.2" y1="25.00" x2="319.6" y2="25.00" stroke="#4fcdcf" stroke-width="2.5"/>
<text id="t26" x="328.60" y="29.60" font-size="13.49" textLength="131.45" lengthAdjust="spacingAndGlyphs" fill="#1a1a1a" >New Brunswick (NB)</text>
<line x1="291.2" y1="43.85" x2="319.6" y2="43.85" stroke="#3ca325" stroke-width="2.5"/>
<text id="t27" x="329.11" y="48.45" font-size="13.49" textLength="81.93" lengthAdjust="spacingAndGlyphs" fill="#1a1a1a" >Ontario (ON)</text>
<line x1="291.2" y1="62.70" x2="319.6" y2="62.70" stroke="#b2c42a" stroke-width="2.5"/>
<text id="t28" x="328.59" y="67.30" font-size="13.49" textLength="138.23" lengthAdjust="spacingAndGlyphs" fill="#1a1a1a" >British Columbia (BC)</text>
<line x1="291.2" y1="81.55" x2="319.6" y2="81.55" stroke="#8c5048" stroke-width="2.5"/>
<text id="t29" x="329.12" y="86.15" font-size="13.49" textLength="81.94" lengthAdjust="spacingAndGlyphs" fill="#1a1a1a" >Québec (QC)</text>
<line x1="291.2" y1="100.40" x2="319.6" y2="100.40" stroke="#f07d1e" stroke-width="2.5"/>
<text id="t30" x="328.61" y="105.00" font-size="13.49" textLength="92.97" lengthAdjust="spacingAndGlyphs" fill="#1a1a1a" >Manitoba (MB)</text>
<line x1="291.2" y1="119.25" x2="319.6" y2="119.25" stroke="#ff1500" stroke-width="2.9"/>
<text id="t31" x="328.60" y="123.85" font-size="13.49" textLength="101.04" lengthAdjust="spacingAndGlyphs" fill="#1a1a1a" >Reference plant</text>
<line x1="292.0" y1="138.10" x2="319.6" y2="138.10" stroke="#000000" stroke-width="1.95" stroke-dasharray="7.17 3.1"/>
<text id="t32" x="329.06" y="142.70" font-size="13.49" textLength="129.70" lengthAdjust="spacingAndGlyphs" fill="#1a1a1a" >Carbon price (2030)</text>
<rect x="481.6" y="15.8" width="182.90" height="152.70" rx="2.5" ry="2.5" fill="#ffffff" fill-opacity="0.8" stroke="#d0d0d0" stroke-width="1"/>
<text id="t33" x="486.92" y="30.50" font-size="13.49" textLength="135.59" lengthAdjust="spacingAndGlyphs" fill="#1a1a1a" >4 wk | 1 hr | Location</text>
<circle cx="499.90" cy="44.80" r="6.42" fill="#f33cf5" stroke="#000" stroke-width="1.285" stroke-linejoin="miter"/>
<circle cx="542.70" cy="44.80" r="6.42" fill="#ffffff" stroke="#000" stroke-width="1.285" stroke-linejoin="miter"/>
<text id="t34" x="566.29" y="49.50" font-size="13.49" textLength="74.40" lengthAdjust="spacingAndGlyphs" fill="#1a1a1a" >Victoria, BC</text>
<polygon points="499.90,57.23 493.47,70.08 506.32,70.08" fill="#f33cf5" stroke="#000" stroke-width="1.285" stroke-linejoin="miter"/>
<polygon points="542.70,57.23 536.28,70.08 549.12,70.08" fill="#ffffff" stroke="#000" stroke-width="1.285" stroke-linejoin="miter"/>
<text id="t35" x="566.29" y="68.35" font-size="13.49" textLength="93.39" lengthAdjust="spacingAndGlyphs" fill="#1a1a1a" >Vancouver, BC</text>
<polygon points="499.90,73.41 505.35,82.50 499.90,91.59 494.45,82.50" fill="#f33cf5" stroke="#000" stroke-width="1.285" stroke-linejoin="miter"/>
<polygon points="542.70,73.41 548.15,82.50 542.70,91.59 537.25,82.50" fill="#ffffff" stroke="#000" stroke-width="1.285" stroke-linejoin="miter"/>
<text id="t36" x="566.19" y="87.20" font-size="13.49" textLength="87.62" lengthAdjust="spacingAndGlyphs" fill="#1a1a1a" >Winnipeg, MB</text>
<polygon points="497.76,94.92 502.04,94.92 502.04,99.21 506.32,99.21 506.32,103.49 502.04,103.49 502.04,107.77 497.76,107.77 497.76,103.49 493.47,103.49 493.47,99.21 497.76,99.21" fill="#f33cf5" stroke="#000" stroke-width="1.285" stroke-linejoin="miter"/>
<polygon points="540.56,94.92 544.84,94.92 544.84,99.21 549.12,99.21 549.12,103.49 544.84,103.49 544.84,107.77 540.56,107.77 540.56,103.49 536.28,103.49 536.28,99.21 540.56,99.21" fill="#ffffff" stroke="#000" stroke-width="1.285" stroke-linejoin="miter"/>
<text id="t37" x="566.21" y="106.05" font-size="13.49" textLength="75.30" lengthAdjust="spacingAndGlyphs" fill="#1a1a1a" >Toronto, ON</text>
<polygon points="499.90,126.62 493.47,113.78 506.32,113.78" fill="#f33cf5" stroke="#000" stroke-width="1.285" stroke-linejoin="miter"/>
<polygon points="542.70,126.62 536.28,113.78 549.12,113.78" fill="#ffffff" stroke="#000" stroke-width="1.285" stroke-linejoin="miter"/>
<text id="t38" x="565.71" y="124.90" font-size="13.49" textLength="74.18" lengthAdjust="spacingAndGlyphs" fill="#1a1a1a" >Ottawa, ON</text>
<polygon points="499.90,132.62 493.79,137.06 496.12,144.25 503.68,144.25 506.01,137.06" fill="#f33cf5" stroke="#000" stroke-width="1.285" stroke-linejoin="miter"/>
<polygon points="542.70,132.62 536.59,137.06 538.92,144.25 546.48,144.25 548.81,137.06" fill="#ffffff" stroke="#000" stroke-width="1.285" stroke-linejoin="miter"/>
<text id="t39" x="565.41" y="143.75" font-size="13.49" textLength="83.35" lengthAdjust="spacingAndGlyphs" fill="#1a1a1a" >Montréal, QC</text>
<polygon points="496.69,151.47 499.90,154.69 503.11,151.47 506.32,154.69 503.11,157.90 506.32,161.11 503.11,164.33 499.90,161.11 496.69,164.33 493.47,161.11 496.69,157.90 493.47,154.69" fill="#f33cf5" stroke="#000" stroke-width="1.285" stroke-linejoin="miter"/>
<polygon points="539.49,151.47 542.70,154.69 545.91,151.47 549.12,154.69 545.91,157.90 549.12,161.11 545.91,164.33 542.70,161.11 539.49,164.33 536.28,161.11 539.49,157.90 536.28,154.69" fill="#ffffff" stroke="#000" stroke-width="1.285" stroke-linejoin="miter"/>
<text id="t40" x="565.41" y="162.60" font-size="13.49" textLength="81.24" lengthAdjust="spacingAndGlyphs" fill="#1a1a1a" >Moncton, NB</text>
</svg>
</body></html>
